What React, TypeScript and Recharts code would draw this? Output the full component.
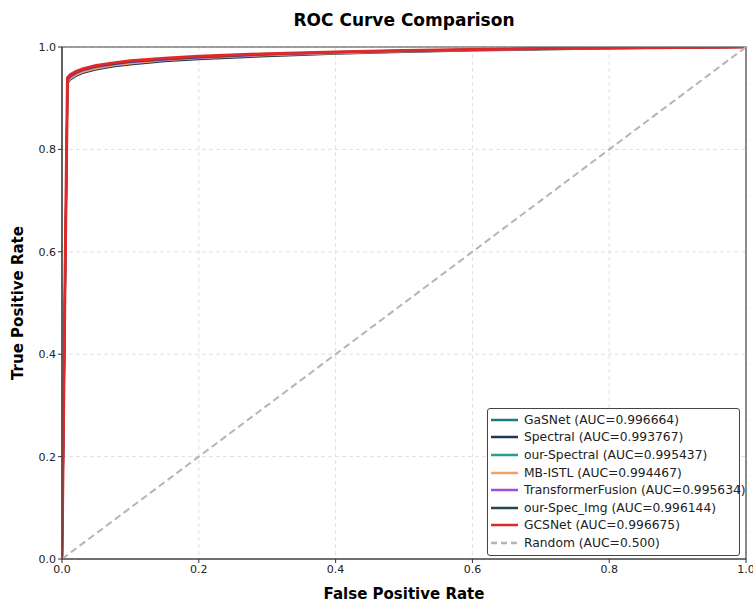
import {
  LineChart,
  Line,
  XAxis,
  YAxis,
  CartesianGrid,
  ReferenceArea,
} from "recharts";

const fpr = [0, 0.004, 0.008, 0.012, 0.02, 0.03, 0.05, 0.075, 0.1, 0.15, 0.2, 0.3, 0.4, 0.5, 0.6, 0.7, 0.8, 0.9, 1.0];

const gasnet = [0, 0.49, 0.938, 0.945, 0.951, 0.956, 0.963, 0.968, 0.972, 0.977, 0.981, 0.986, 0.990, 0.993, 0.995, 0.997, 0.998, 0.999, 1.0];
const spectral = [0, 0.47, 0.929, 0.936, 0.943, 0.949, 0.956, 0.962, 0.966, 0.972, 0.976, 0.982, 0.987, 0.990, 0.993, 0.995, 0.997, 0.999, 1.0];
const ourSpectral = [0, 0.48, 0.934, 0.941, 0.948, 0.953, 0.960, 0.966, 0.970, 0.975, 0.979, 0.985, 0.989, 0.992, 0.994, 0.996, 0.998, 0.999, 1.0];
const mbIstl = [0, 0.48, 0.931, 0.938, 0.945, 0.951, 0.958, 0.964, 0.968, 0.974, 0.978, 0.984, 0.988, 0.991, 0.994, 0.996, 0.997, 0.999, 1.0];
const transformerFusion = [0, 0.48, 0.934, 0.941, 0.948, 0.954, 0.961, 0.966, 0.970, 0.975, 0.979, 0.985, 0.989, 0.992, 0.994, 0.996, 0.998, 0.999, 1.0];
const ourSpecImg = [0, 0.49, 0.936, 0.943, 0.950, 0.955, 0.962, 0.967, 0.971, 0.976, 0.980, 0.986, 0.990, 0.992, 0.995, 0.997, 0.998, 0.999, 1.0];
const gcsnet = [0, 0.50, 0.940, 0.946, 0.952, 0.957, 0.964, 0.969, 0.973, 0.978, 0.982, 0.987, 0.990, 0.993, 0.995, 0.997, 0.998, 0.999, 1.0];
const random = fpr;

const ticks = [0, 0.2, 0.4, 0.6, 0.8, 1.0];

const series = [
  { key: "gasnet", name: "GaSNet (AUC=0.996664)", values: gasnet, color: "#1f7a80", width: 2 },
  { key: "spectral", name: "Spectral (AUC=0.993767)", values: spectral, color: "#1d3557", width: 2 },
  { key: "ourSpectral", name: "our-Spectral (AUC=0.995437)", values: ourSpectral, color: "#2a9d8f", width: 2 },
  { key: "mbIstl", name: "MB-ISTL (AUC=0.994467)", values: mbIstl, color: "#f4a261", width: 2 },
  { key: "transformerFusion", name: "TransformerFusion (AUC=0.995634)", values: transformerFusion, color: "#9d4edd", width: 2 },
  { key: "ourSpecImg", name: "our-Spec_Img (AUC=0.996144)", values: ourSpecImg, color: "#264653", width: 2 },
  { key: "gcsnet", name: "GCSNet (AUC=0.996675)", values: gcsnet, color: "#e02828", width: 3 },
];

const data = fpr.map((x, i) => {
  const row: Record<string, number> = { fpr: x, random: random[i] };
  series.forEach((s) => {
    row[s.key] = s.values[i];
  });
  return row;
});

const font = "'DejaVu Sans', sans-serif";

function LegendBox() {
  const items = [
    ...series.map((s) => ({ name: s.name, color: s.color, dashed: false })),
    { name: "Random (AUC=0.500)", color: "#b5b5b5", dashed: true },
  ];
  return (
    <div
      style={{
        position: "absolute",
        left: 487,
        top: 408,
        width: 253,
        boxSizing: "border-box",
        border: "1px solid #444",
        borderRadius: 3,
        background: "rgba(255,255,255,0.85)",
        padding: "2px 3px 3px 3px",
        fontFamily: font,
        fontSize: 12.3,
        color: "#222",
      }}>
      {items.map((it) => (
        <div key={it.name} style={{ display: "flex", alignItems: "center", height: 17.6 }}>
          <svg width={27} height={6} style={{ marginRight: 6, flexShrink: 0 }}>
            <line
              x1={0}
              y1={3}
              x2={27}
              y2={3}
              stroke={it.color}
              strokeWidth={2.5}
              strokeDasharray={it.dashed ? "6 4" : undefined}
            />
          </svg>
          <span style={{ whiteSpace: "nowrap" }}>{it.name}</span>
        </div>
      ))}
    </div>
  );
}

export default function App() {
  return (
    <div style={{ position: "absolute", left: 0, top: 0, width: 753, height: 602, background: "#fff", overflow: "hidden" }}>
      <div
        style={{
          position: "absolute",
          left: 404,
          top: 20,
          transform: "translate(-50%, -50%)",
          fontFamily: font,
          fontWeight: "bold",
          fontSize: 17,
          whiteSpace: "nowrap",
        }}>
        ROC Curve Comparison
      </div>
      <LineChart width={753} height={602} data={data} margin={{ top: 47, right: 7, bottom: 23, left: 20 }}>
        <CartesianGrid stroke="#e0e0e0" strokeDasharray="4 3" />
        <XAxis
          dataKey="fpr"
          type="number"
          domain={[0, 1]}
          ticks={ticks}
          tickFormatter={(v: number) => v.toFixed(1)}
          tick={{ fontSize: 11, fill: "#222", fontFamily: font }}
          tickSize={4}
          tickLine={{ stroke: "#333" }}
          axisLine={{ stroke: "#444", strokeWidth: 1.2 }}
          height={20}
          interval={0}
          allowDataOverflow
        />
        <YAxis
          type="number"
          domain={[0, 1]}
          ticks={ticks}
          tickFormatter={(v: number) => v.toFixed(1)}
          tick={{ fontSize: 11, fill: "#222", fontFamily: font }}
          tickSize={4}
          tickLine={{ stroke: "#333" }}
          axisLine={{ stroke: "#444", strokeWidth: 1.2 }}
          width={42}
          interval={0}
          allowDataOverflow
        />
        <ReferenceArea x1={0} x2={1} y1={0} y2={1} fill="none" stroke="#444" strokeWidth={1.2} ifOverflow="visible" />
        {series.map((s) => (
          <Line
            key={s.key}
            type="linear"
            dataKey={s.key}
            name={s.name}
            stroke={s.color}
            strokeWidth={s.width}
            dot={false}
            isAnimationActive={false}
          />
        ))}
        <Line
          type="linear"
          dataKey="random"
          name="Random (AUC=0.500)"
          stroke="#b5b5b5"
          strokeWidth={2}
          strokeDasharray="7 4"
          dot={false}
          isAnimationActive={false}
        />
      </LineChart>
      <LegendBox />
      <div
        style={{
          position: "absolute",
          left: 404,
          top: 594,
          transform: "translate(-50%, -50%)",
          fontFamily: font,
          fontWeight: "bold",
          fontSize: 15,
          whiteSpace: "nowrap",
        }}>
        False Positive Rate
      </div>
      <div
        style={{
          position: "absolute",
          left: 18,
          top: 303,
          transform: "translate(-50%, -50%) rotate(-90deg)",
          fontFamily: font,
          fontWeight: "bold",
          fontSize: 15,
          whiteSpace: "nowrap",
        }}>
        True Positive Rate
      </div>
    </div>
  );
}
